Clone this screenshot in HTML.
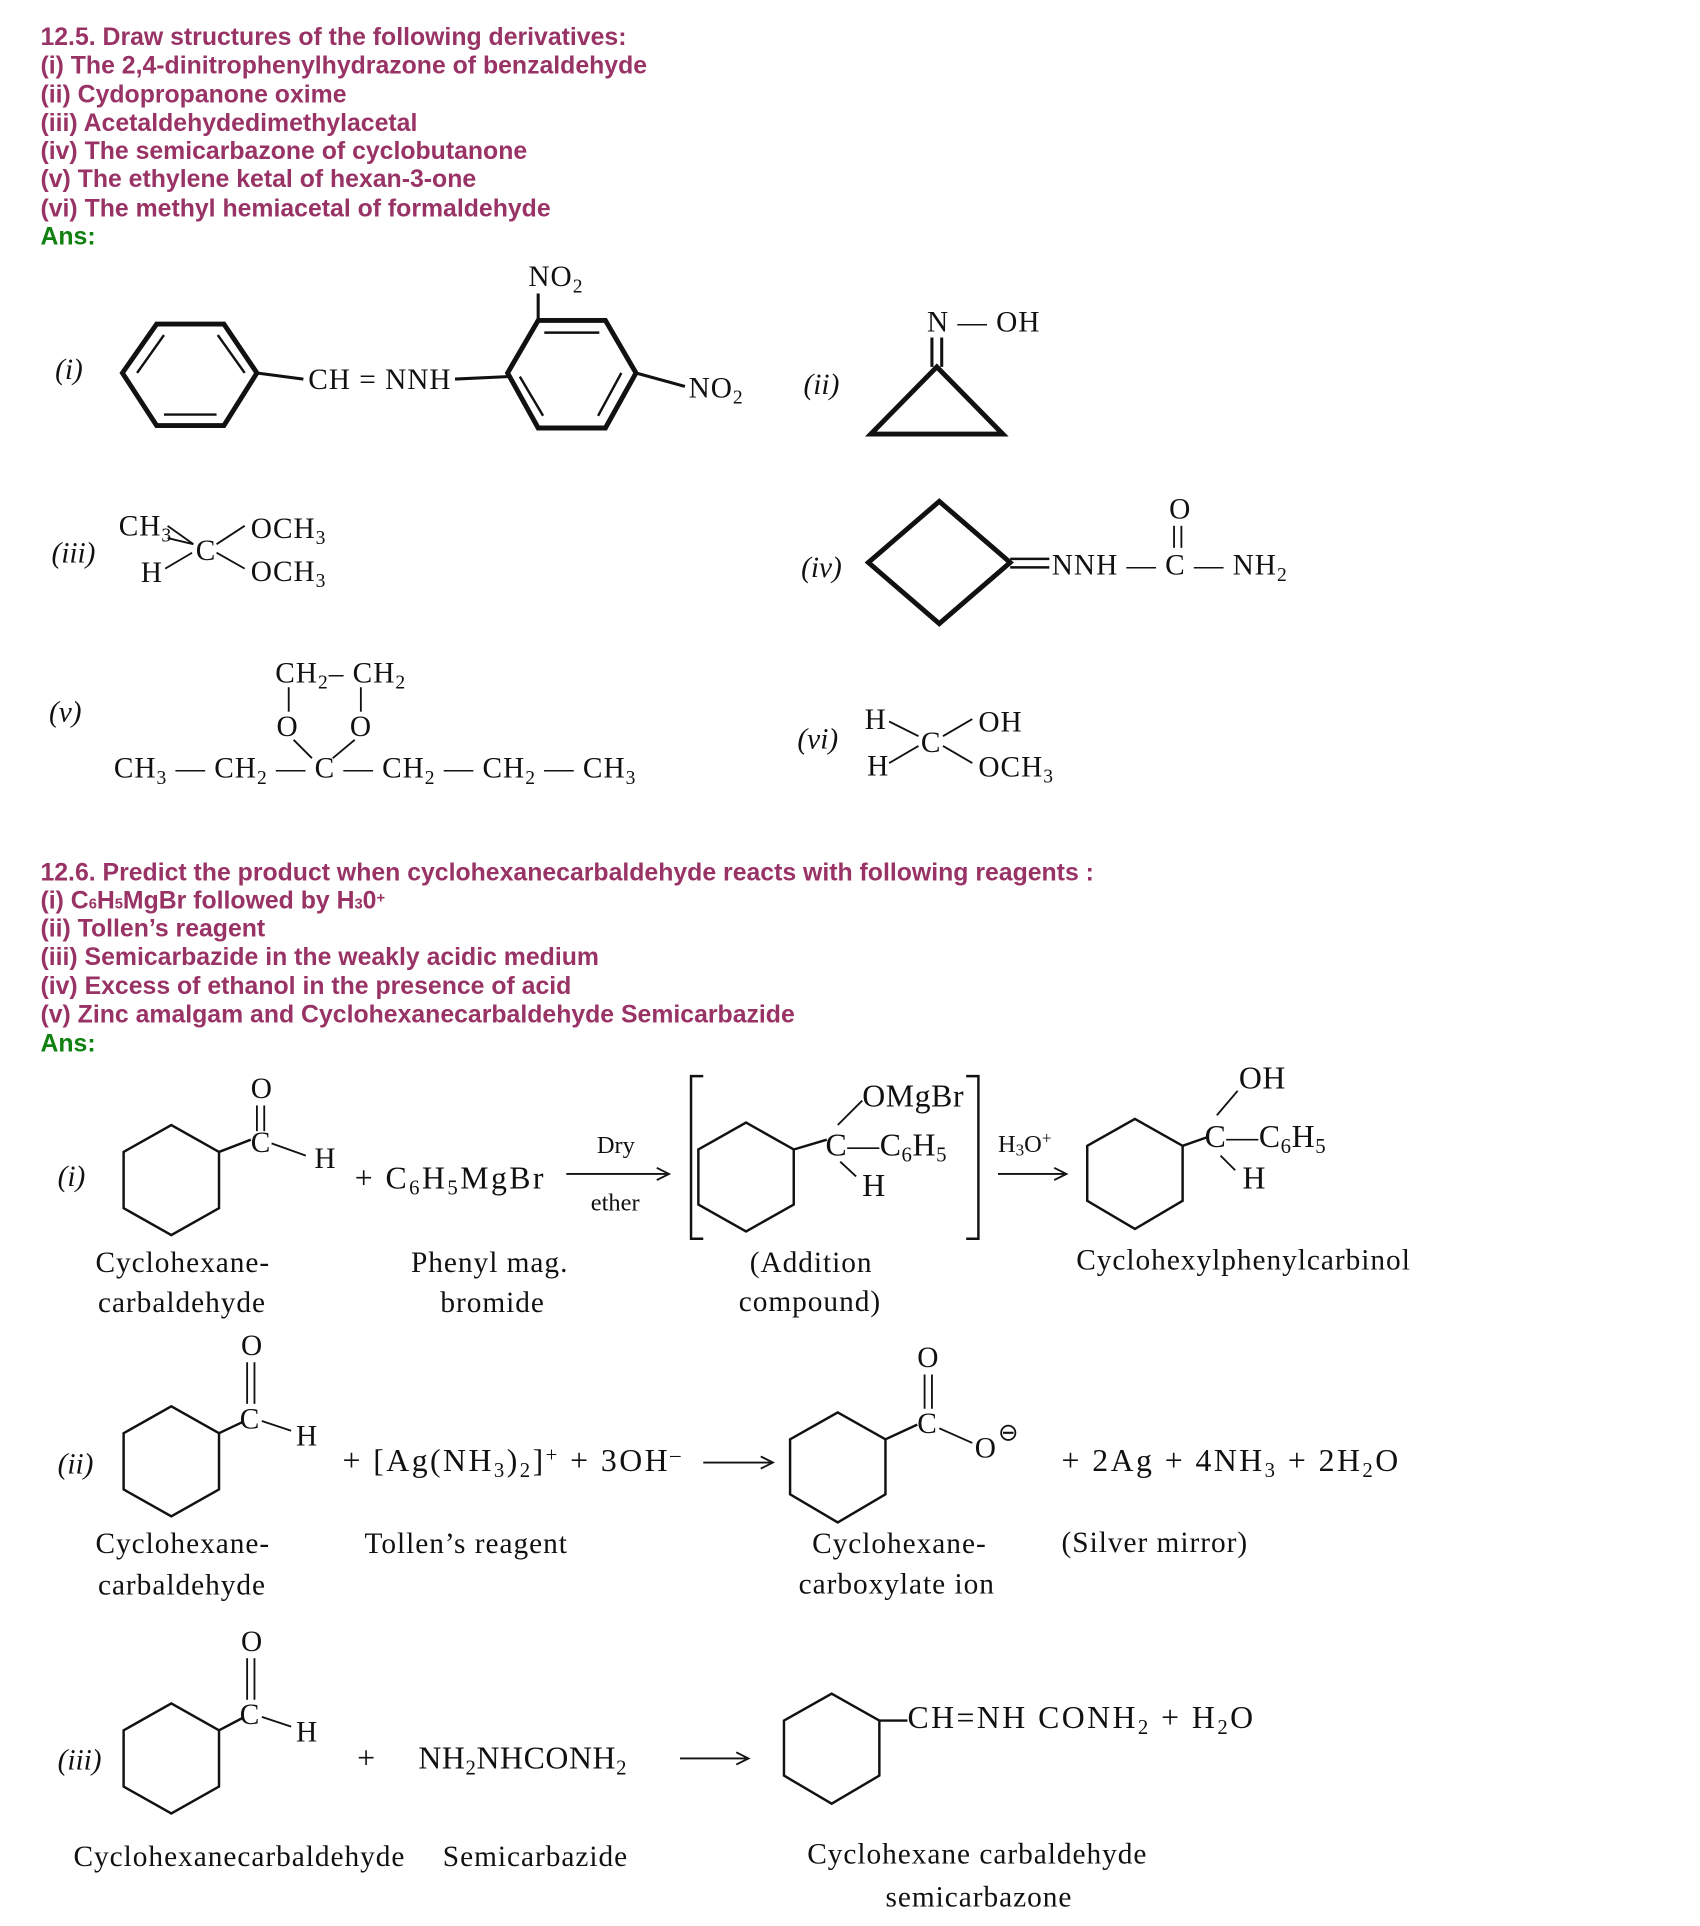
<!DOCTYPE html>
<html><head><meta charset="utf-8"><style>
html,body{margin:0;padding:0;background:#fff;}
svg{display:block;}
.h{font-family:"Liberation Sans",sans-serif;font-weight:bold;font-size:20.3px;fill:#993366;}
.g{font-family:"Liberation Sans",sans-serif;font-weight:bold;font-size:20.3px;fill:#108010;}
.s{font-family:"Liberation Serif",serif;font-size:26px;letter-spacing:2px;fill:#111;}
.t{font-family:"Liberation Serif",serif;font-size:24px;letter-spacing:0.8px;fill:#111;}
.i{font-family:"Liberation Serif",serif;font-size:24px;font-style:italic;fill:#111;}
.sm{font-family:"Liberation Serif",serif;font-size:20px;fill:#111;}
line,polygon,polyline,path{stroke:#111;fill:none;}
</style></head><body>
<svg width="1700" height="1926" viewBox="0 0 1390 1575" xmlns="http://www.w3.org/2000/svg">
<g>
<text class="h" x="33" y="37">12.5. Draw structures of the following derivatives:</text>
<text class="h" x="33" y="60">(i) The 2,4-dinitrophenylhydrazone of benzaldehyde</text>
<text class="h" x="33" y="84">(ii) Cydopropanone oxime</text>
<text class="h" x="33" y="107">(iii) Acetaldehydedimethylacetal</text>
<text class="h" x="33" y="130">(iv) The semicarbazone of cyclobutanone</text>
<text class="h" x="33" y="153">(v) The ethylene ketal of hexan-3-one</text>
<text class="h" x="33" y="177">(vi) The methyl hemiacetal of formaldehyde</text>
<text class="g" x="33" y="200">Ans:</text>
</g>
<!-- (i) -->
<text class="i" x="45" y="310">(i)</text>
<polygon stroke-width="4" points="100,305 128,265 183,265 210,305 183,348 128,348"/>
<line x1="112" y1="305" x2="134" y2="274" stroke-width="2"/>
<line x1="177" y1="339" x2="134" y2="339" stroke-width="2"/>
<line x1="200" y1="305" x2="178" y2="274" stroke-width="2"/>
<line x1="210" y1="305" x2="248" y2="310" stroke-width="2.5"/>
<text class="t" x="252" y="318">CH = NNH</text>
<line x1="372" y1="310" x2="415" y2="308" stroke-width="2.5"/>
<polygon stroke-width="4" points="415,305 440,262 495,262 520,305 495,350 440,350"/>
<line x1="445" y1="272" x2="490" y2="272" stroke-width="2"/>
<line x1="508" y1="305" x2="489" y2="340" stroke-width="2"/>
<line x1="425" y1="308" x2="444" y2="340" stroke-width="2"/>
<line x1="440" y1="262" x2="440" y2="240" stroke-width="2.5"/>
<text class="t" x="432" y="234">NO<tspan font-size="16" dy="5">2</tspan></text>
<line x1="520" y1="305" x2="560" y2="316" stroke-width="2.5"/>
<text class="t" x="563" y="325">NO<tspan font-size="16" dy="5">2</tspan></text>
<!-- (ii) -->
<text class="i" x="657" y="322">(ii)</text>
<text class="t" x="758" y="271">N — OH</text>
<polygon stroke-width="4" points="712,355 820,355 766,300"/>
<line x1="762" y1="300" x2="762" y2="276" stroke-width="2.5"/>
<line x1="770" y1="300" x2="770" y2="276" stroke-width="2.5"/>
<!-- (iii) -->
<text class="i" x="42" y="460">(iii)</text>
<text class="t" x="97" y="438">CH<tspan font-size="16" dy="5">3</tspan></text>
<text class="t" x="115" y="476">H</text>
<text class="t" x="160" y="458">C</text>
<line x1="137" y1="430" x2="158" y2="445" stroke-width="1.5"/><line x1="137" y1="440" x2="158" y2="445" stroke-width="1.5"/>
<line x1="135" y1="465" x2="157" y2="452" stroke-width="1.5"/>
<line x1="177" y1="445" x2="200" y2="430" stroke-width="1.5"/>
<line x1="177" y1="452" x2="200" y2="465" stroke-width="1.5"/>
<text class="t" x="205" y="440">OCH<tspan font-size="16" dy="5">3</tspan></text>
<text class="t" x="205" y="475">OCH<tspan font-size="16" dy="5">3</tspan></text>
<!-- (iv) -->
<text class="i" x="655" y="472">(iv)</text>
<polygon stroke-width="4" points="710,460 768,410 826,460 768,510"/>
<line x1="826" y1="457" x2="858" y2="457" stroke-width="2"/><line x1="826" y1="464" x2="858" y2="464" stroke-width="2"/>
<text class="t" x="860" y="470">NNH — C — NH<tspan font-size="16" dy="5">2</tspan></text>
<text class="t" x="956" y="424">O</text>
<line x1="960" y1="430" x2="960" y2="448" stroke-width="1.5"/><line x1="966" y1="430" x2="966" y2="448" stroke-width="1.5"/>
<!-- (v) -->
<text class="i" x="40" y="590">(v)</text>
<text class="t" x="225" y="558">CH<tspan font-size="16" dy="5">2</tspan><tspan dy="-5">– CH</tspan><tspan font-size="16" dy="5">2</tspan></text>
<line x1="236" y1="562" x2="236" y2="582" stroke-width="1.5"/><line x1="295" y1="562" x2="295" y2="582" stroke-width="1.5"/>
<text class="t" x="226" y="602">O</text><text class="t" x="286" y="602">O</text>
<line x1="240" y1="605" x2="255" y2="620" stroke-width="1.5"/><line x1="290" y1="605" x2="272" y2="620" stroke-width="1.5"/>
<text class="t" x="93" y="636">CH<tspan font-size="16" dy="5">3</tspan><tspan dy="-5"> — CH</tspan><tspan font-size="16" dy="5">2</tspan><tspan dy="-5"> — C — CH</tspan><tspan font-size="16" dy="5">2</tspan><tspan dy="-5"> — CH</tspan><tspan font-size="16" dy="5">2</tspan><tspan dy="-5"> — CH</tspan><tspan font-size="16" dy="5">3</tspan></text>
<!-- (vi) -->
<text class="i" x="652" y="612">(vi)</text>
<text class="t" x="707" y="596">H</text><text class="t" x="709" y="634">H</text>
<text class="t" x="753" y="615">C</text>
<line x1="727" y1="590" x2="751" y2="602" stroke-width="1.5"/><line x1="727" y1="624" x2="751" y2="610" stroke-width="1.5"/>
<line x1="771" y1="602" x2="795" y2="588" stroke-width="1.5"/><line x1="771" y1="610" x2="795" y2="624" stroke-width="1.5"/>
<text class="t" x="800" y="598">OH</text>
<text class="t" x="800" y="635">OCH<tspan font-size="16" dy="5">3</tspan></text>

<g>
<text class="h" x="33" y="720">12.6. Predict the product when cyclohexanecarbaldehyde reacts with following reagents :</text>
<text class="h" x="33" y="743">(i) C<tspan font-size="12">6</tspan>H<tspan font-size="12">5</tspan>MgBr followed by H<tspan font-size="12">3</tspan>0<tspan font-size="12" dy="-5">+</tspan></text>
<text class="h" x="33" y="766">(ii) Tollen’s reagent</text>
<text class="h" x="33" y="789">(iii) Semicarbazide in the weakly acidic medium</text>
<text class="h" x="33" y="813">(iv) Excess of ethanol in the presence of acid</text>
<text class="h" x="33" y="836">(v) Zinc amalgam and Cyclohexanecarbaldehyde Semicarbazide</text>
<text class="g" x="33" y="860">Ans:</text>
</g>
<!-- Row i -->
<text class="i" x="47" y="970">(i)</text>
<polygon stroke-width="2" points="140,920 179,942 179,988 140,1010 101,988 101,942"/>
<polyline stroke-width="2" points="179,942 205,932"/>
<text class="t" x="205" y="942">C</text>
<text class="t" x="205" y="898">O</text>
<line x1="210" y1="904" x2="210" y2="925" stroke-width="1.5"/><line x1="216" y1="904" x2="216" y2="925" stroke-width="1.5"/>
<line x1="222" y1="935" x2="250" y2="945" stroke-width="1.5"/>
<text class="t" x="257" y="955">H</text>
<text class="s" x="290" y="972">+ C<tspan font-size="17" dy="5">6</tspan><tspan dy="-5">H</tspan><tspan font-size="17" dy="5">5</tspan><tspan dy="-5">MgBr</tspan></text>
<line x1="463" y1="960" x2="545" y2="960" stroke-width="1.5"/><polyline stroke-width="1.5" points="537,955 547,960 537,965"/>
<text class="sm" x="488" y="943">Dry</text><text class="sm" x="483" y="990">ether</text>
<polyline stroke-width="2" points="575,880 565,880 565,1013 575,1013"/>
<polygon stroke-width="2" points="610,918 649,940 649,985 610,1007 571,985 571,940"/>
<line x1="649" y1="940" x2="676" y2="932" stroke-width="2"/>
<text class="s" x="675" y="945" style="letter-spacing:0.5px">C—C<tspan font-size="17" dy="5">6</tspan><tspan dy="-5">H</tspan><tspan font-size="17" dy="5">5</tspan></text>
<line x1="685" y1="920" x2="705" y2="900" stroke-width="1.5"/>
<text class="s" x="705" y="905" style="letter-spacing:0.5px">OMgBr</text>
<line x1="687" y1="950" x2="700" y2="962" stroke-width="1.5"/>
<text class="s" x="705" y="978">H</text>
<polyline stroke-width="2" points="790,880 800,880 800,1013 790,1013"/>
<text class="sm" x="816" y="942">H<tspan font-size="14" dy="3">3</tspan><tspan dy="-3">O</tspan><tspan font-size="14" dy="-7">+</tspan></text>
<line x1="816" y1="960" x2="870" y2="960" stroke-width="1.5"/><polyline stroke-width="1.5" points="862,955 872,960 862,965"/>
<polygon stroke-width="2" points="928,915 967,937 967,982 928,1005 889,982 889,937"/>
<line x1="967" y1="937" x2="987" y2="930" stroke-width="2"/>
<text class="s" x="985" y="938" style="letter-spacing:0.5px">C—C<tspan font-size="17" dy="5">6</tspan><tspan dy="-5">H</tspan><tspan font-size="17" dy="5">5</tspan></text>
<line x1="995" y1="912" x2="1012" y2="892" stroke-width="1.5"/>
<text class="s" x="1013" y="890" style="letter-spacing:0.5px">OH</text>
<line x1="998" y1="945" x2="1010" y2="957" stroke-width="1.5"/>
<text class="s" x="1016" y="972">H</text>
<text class="t" x="78" y="1040">Cyclohexane-</text><text class="t" x="80" y="1073">carbaldehyde</text>
<text class="t" x="336" y="1040">Phenyl mag.</text><text class="t" x="360" y="1073">bromide</text>
<text class="t" x="613" y="1040">(Addition</text><text class="t" x="604" y="1072">compound)</text>
<text class="t" x="880" y="1038">Cyclohexylphenylcarbinol</text>
<!-- Row ii -->
<text class="i" x="47" y="1205">(ii)</text>
<polygon stroke-width="2" points="140,1150 179,1172 179,1218 140,1240 101,1218 101,1172"/>
<line x1="179" y1="1172" x2="198" y2="1163" stroke-width="2"/>
<text class="t" x="196" y="1168">C</text>
<text class="t" x="197" y="1108">O</text>
<line x1="202" y1="1114" x2="202" y2="1148" stroke-width="1.5"/><line x1="208" y1="1114" x2="208" y2="1148" stroke-width="1.5"/>
<line x1="214" y1="1162" x2="238" y2="1170" stroke-width="1.5"/>
<text class="t" x="242" y="1182">H</text>
<text class="s" x="280" y="1203">+ [Ag(NH<tspan font-size="17" dy="5">3</tspan><tspan dy="-5">)</tspan><tspan font-size="17" dy="5">2</tspan><tspan dy="-5">]</tspan><tspan font-size="17" dy="-8">+</tspan><tspan dy="8"> + 3OH</tspan><tspan font-size="17" dy="-8">–</tspan></text>
<line x1="575" y1="1196" x2="630" y2="1196" stroke-width="1.5"/><polyline stroke-width="1.5" points="622,1191 632,1196 622,1201"/>
<polygon stroke-width="2" points="685,1155 724,1177 724,1222 685,1245 646,1222 646,1177"/>
<line x1="724" y1="1177" x2="750" y2="1165" stroke-width="2"/>
<text class="t" x="750" y="1172">C</text>
<text class="t" x="750" y="1118">O</text>
<line x1="756" y1="1124" x2="756" y2="1152" stroke-width="1.5"/><line x1="762" y1="1124" x2="762" y2="1152" stroke-width="1.5"/>
<line x1="768" y1="1168" x2="795" y2="1180" stroke-width="1.5"/>
<text class="t" x="797" y="1192">O</text><text class="sm" x="816" y="1178">⊖</text>
<text class="s" x="868" y="1203">+ 2Ag + 4NH<tspan font-size="17" dy="5">3</tspan><tspan dy="-5"> + 2H</tspan><tspan font-size="17" dy="5">2</tspan><tspan dy="-5">O</tspan></text>
<text class="t" x="78" y="1270">Cyclohexane-</text><text class="t" x="80" y="1304">carbaldehyde</text>
<text class="t" x="298" y="1270">Tollen’s reagent</text>
<text class="t" x="664" y="1270">Cyclohexane-</text><text class="t" x="653" y="1303">carboxylate ion</text>
<text class="t" x="868" y="1269">(Silver mirror)</text>
<!-- Row iii -->
<text class="i" x="47" y="1447">(iii)</text>
<polygon stroke-width="2" points="140,1393 179,1415 179,1461 140,1483 101,1461 101,1415"/>
<line x1="179" y1="1415" x2="198" y2="1405" stroke-width="2"/>
<text class="t" x="196" y="1410">C</text>
<text class="t" x="197" y="1350">O</text>
<line x1="202" y1="1356" x2="202" y2="1390" stroke-width="1.5"/><line x1="208" y1="1356" x2="208" y2="1390" stroke-width="1.5"/>
<line x1="214" y1="1404" x2="238" y2="1412" stroke-width="1.5"/>
<text class="t" x="242" y="1424">H</text>
<text class="s" x="292" y="1446">+</text>
<text class="s" x="342" y="1446" style="letter-spacing:0.5px">NH<tspan font-size="17" dy="5">2</tspan><tspan dy="-5">NHCONH</tspan><tspan font-size="17" dy="5">2</tspan></text>
<line x1="556" y1="1438" x2="610" y2="1438" stroke-width="1.5"/><polyline stroke-width="1.5" points="602,1433 612,1438 602,1443"/>
<polygon stroke-width="2" points="680,1385 719,1407 719,1452 680,1475 641,1452 641,1407"/>
<line x1="719" y1="1407" x2="742" y2="1407" stroke-width="2"/>
<text class="s" x="742" y="1413">CH=NH CONH<tspan font-size="17" dy="5">2</tspan><tspan dy="-5"> + H</tspan><tspan font-size="17" dy="5">2</tspan><tspan dy="-5">O</tspan></text>
<text class="t" x="60" y="1526">Cyclohexanecarbaldehyde</text>
<text class="t" x="362" y="1526">Semicarbazide</text>
<text class="t" x="660" y="1524">Cyclohexane carbaldehyde</text>
<text class="t" x="724" y="1559">semicarbazone</text>
</svg>
</body></html>
